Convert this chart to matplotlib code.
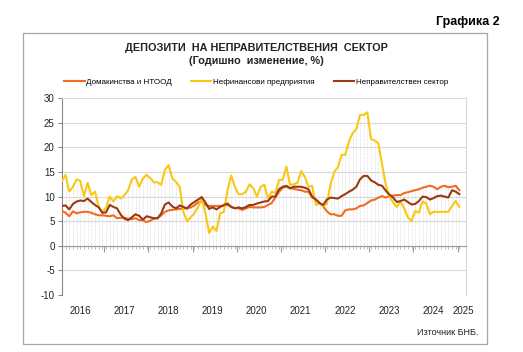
import numpy as np
import matplotlib.pyplot as plt
from matplotlib.patches import Rectangle

# monthly data, Jan 2016 onward (index 0..108)
domakinstva = [7.1, 6.7, 6.0, 7.0, 6.6, 6.8, 6.9, 6.9, 6.7, 6.4,
               6.2, 6.2, 6.1, 6.0, 6.2, 5.6, 5.7, 5.7, 5.5, 5.4,
               5.6, 5.2, 5.2, 4.8, 5.1, 5.5, 5.6, 6.2, 6.9, 7.2,
               7.3, 7.4, 7.5, 7.6, 7.6, 7.8, 8.2, 8.8, 9.0, 8.3,
               8.1, 8.1, 8.1, 8.1, 8.1, 8.3, 7.9, 7.7, 7.6, 7.3,
               7.6, 7.9, 7.8, 7.8, 7.8, 7.9, 8.3, 8.7, 9.8, 11.0,
               11.8, 12.0, 11.7, 11.6, 11.4, 11.3, 11.0, 11.0, 9.8, 9.4,
               8.7, 8.0, 7.0, 6.4, 6.4, 6.1, 6.1, 7.2, 7.4, 7.4,
               7.6, 8.1, 8.2, 8.7, 9.2, 9.4, 9.8, 10.1, 9.8, 10.1,
               10.2, 10.3, 10.3, 10.7, 10.9, 11.1, 11.3, 11.5, 11.8, 12.0,
               12.2, 12.0, 11.5, 12.0, 12.2, 11.9, 12.0, 12.2, 11.3]

nefinansovi = [13.2, 14.4, 11.0, 12.0, 13.5, 13.2, 10.1, 12.8, 10.3, 11.0,
               8.0, 6.8, 7.8, 10.0, 9.0, 10.1, 9.6, 10.3, 11.3, 13.5,
               14.0, 12.0, 13.7, 14.4, 13.8, 12.9, 12.9, 12.4, 15.5, 16.4,
               13.7, 13.0, 12.0, 6.9, 5.0, 5.8, 6.6, 7.9, 9.6, 6.6,
               2.6, 3.9, 3.0, 6.6, 6.9, 11.3, 14.3, 12.0, 10.5, 10.5,
               11.0, 12.5, 11.7, 10.0, 12.0, 12.4, 9.6, 11.0, 10.7, 13.4,
               13.4, 16.1, 12.4, 12.5, 12.8, 15.2, 14.0, 12.0, 12.2, 8.3,
               8.6, 8.1, 8.5, 12.5, 15.0, 16.0, 18.5, 18.5, 21.2, 22.9,
               23.7, 26.6, 26.6, 27.1, 21.7, 21.4, 20.8, 16.5, 12.4, 10.0,
               8.8, 7.9, 9.0, 7.6, 5.8, 5.0, 7.1, 6.7, 9.0, 8.6,
               6.4, 6.9, 6.9, 6.9, 6.9, 6.9, 8.1, 9.1, 7.9]

nepravitelstven = [8.1, 8.2, 7.4, 8.5, 9.0, 9.2, 9.1, 9.6, 8.9, 8.3,
                   7.8, 6.7, 6.8, 8.3, 7.9, 7.6, 6.3, 5.5, 5.2, 5.8,
                   6.4, 6.1, 5.3, 6.0, 5.8, 5.6, 5.6, 6.6, 8.4, 8.8,
                   8.0, 7.6, 8.2, 7.9, 7.6, 8.4, 8.9, 9.4, 9.9, 8.8,
                   7.5, 7.8, 7.4, 7.9, 8.3, 8.6, 7.9, 7.6, 7.8, 7.6,
                   7.9, 8.3, 8.3, 8.6, 8.8, 9.0, 9.1, 10.0, 10.0, 11.5,
                   12.0, 12.2, 11.7, 12.0, 12.0, 12.0, 11.8, 11.5, 10.0, 9.4,
                   8.7, 8.3, 9.4, 9.8, 9.7, 9.6, 10.1, 10.5, 11.0, 11.4,
                   12.0, 13.5, 14.2, 14.2, 13.3, 12.9, 12.4, 12.2, 11.2, 10.4,
                   9.8, 8.9, 9.1, 9.4, 8.9, 8.4, 8.5, 9.1, 10.0, 9.9,
                   9.4, 9.7, 10.1, 10.2, 10.0, 9.8, 11.3, 11.0, 10.5]

godini = ["2016", "2017", "2018", "2019", "2020", "2021", "2022", "2023", "2024", "2025"]
etiketi = ["Домакинства и НТООД", "Нефинансови предприятия", "Неправителствен сектор"]

plt.rcParams['font.family'] = ['Liberation Sans', 'DejaVu Sans']
plt.rcParams['axes.unicode_minus'] = False

idx = np.arange(len(domakinstva))
gorni = np.max([domakinstva, nefinansovi, nepravitelstven], axis=0)

fig = plt.figure(figsize=(5.23, 3.52), dpi=100)
ax = fig.add_axes([0.118, 0.162, 0.773, 0.559])

# рамка около графиката
fig.patches.append(Rectangle((0.044, 0.023), 0.887, 0.884, transform=fig.transFigure,
                             fill=False, edgecolor="#A6A6A6", lw=0.9))

ax.vlines(idx, 0, gorni, colors="#D4D4D4", lw=0.5, linestyles=(0, (1, 1)), zorder=1)

ax.plot(idx, domakinstva, color="#F26B21", lw=1.5, label=etiketi[0], zorder=3)
ax.plot(idx, nefinansovi, color="#F9C814", lw=1.5, label=etiketi[1], zorder=3)
ax.plot(idx, nepravitelstven, color="#9A3A14", lw=1.5, label=etiketi[2], zorder=4)

ax.set_ylim(-10, 30)
ax.set_xlim(-0.05, 109.8)
ax.set_yticks(np.arange(-10, 31, 5))
ax.yaxis.grid(True, color="#D9D9D9", lw=0.8)
ax.set_axisbelow(True)
ax.tick_params(axis="y", labelsize=7, length=3, color="#888888", pad=2, labelcolor="#222222")

# хоризонтална ос при 0
ax.spines["bottom"].set_position(("data", 0))
ax.spines["bottom"].set_color("#9A9A9A")
ax.set_xticks(np.arange(11.5, 110, 12))
ax.set_xticks(idx, minor=True)
ax.tick_params(axis="x", which="major", length=4, color="#9A9A9A", labelbottom=False)
ax.tick_params(axis="x", which="minor", length=2, color="#B0B0B0")
ax.spines["left"].set_color("#888888")
ax.spines["top"].set_color("#D9D9D9")
ax.spines["right"].set_color("#D9D9D9")

poz = [12 * k + 4.9 for k in range(9)] + [109.1]
for p, g in zip(poz, godini):
    ax.text(p, -13.3, g, ha="center", va="center", fontsize=7, color="#222222")

fig.text(0.956, 0.937, "Графика 2", ha="right", va="center", fontsize=9, fontweight="bold")
fig.text(0.49, 0.864, "ДЕПОЗИТИ  НА НЕПРАВИТЕЛСТВЕНИЯ  СЕКТОР", ha="center", va="center",
         fontsize=7.8, fontweight="bold", color="#222222")
fig.text(0.49, 0.827, "(Годишно  изменение, %)", ha="center", va="center",
         fontsize=7.8, fontweight="bold", color="#222222")
fig.text(0.914, 0.054, "Източник БНБ.", ha="right", va="center", fontsize=6.5, color="#222222")

fig.legend(loc="center", bbox_to_anchor=(0.49, 0.767), ncol=3, frameon=False, fontsize=5.8,
           handlelength=2.5, handletextpad=0.2, columnspacing=2.4)

fig.savefig("out.png", dpi=100)
